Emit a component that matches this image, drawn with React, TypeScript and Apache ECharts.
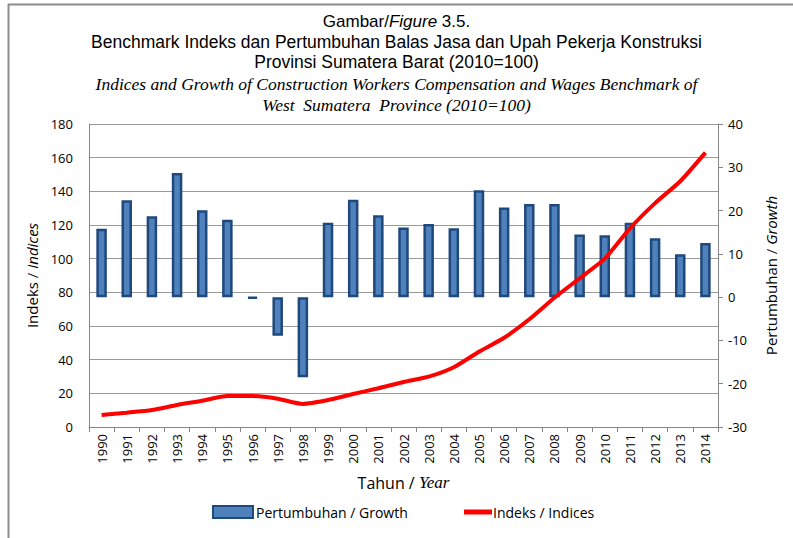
import React, { useEffect, useRef } from "react";
import * as echarts from "echarts";

const years = ["1990","1991","1992","1993","1994","1995","1996","1997","1998","1999","2000","2001","2002","2003","2004","2005","2006","2007","2008","2009","2010","2011","2012","2013","2014"];
const growth = [15.8, 22.4, 18.7, 28.7, 20.1, 17.9, -0.3, -8.9, -18.5, 17.2, 22.5, 18.9, 16.1, 16.9, 15.9, 24.7, 20.7, 21.5, 21.5, 14.5, 14.3, 17.2, 13.6, 9.9, 12.5];
const indices = [7.1, 8.5, 10.1, 13.1, 15.6, 18.4, 18.4, 16.8, 13.7, 16.0, 19.6, 23.0, 26.7, 29.9, 35.5, 44.7, 53.0, 64.0, 76.8, 88.3, 100.0, 118.0, 133.0, 146.0, 163.0];
const leftTicks = { min: 0, max: 180, interval: 20 };
const rightTicks = { min: -30, max: 40, interval: 10 };
const titleLines = [
  "Gambar/{i|Figure} 3.5.",
  "Benchmark Indeks dan Pertumbuhan Balas Jasa dan Upah Pekerja Konstruksi",
  "Provinsi Sumatera Barat (2010=100)",
];
const subtitleLines = [
  "Indices and Growth of Construction Workers Compensation and Wages Benchmark of",
  "West  Sumatera  Province (2010=100)",
];
const seriesNames = ["Pertumbuhan / Growth", "Indeks / Indices"];

const SANS = "'Liberation Sans Narrow', 'Liberation Sans', Arial, sans-serif";
const SERIF = "'Liberation Serif', 'Times New Roman', serif";
const AX = "'Open Sans', 'Noto Sans', sans-serif";

export default function App() {
  const ref = useRef<HTMLDivElement>(null);
  useEffect(() => {
    if (!ref.current) return;
    const chart = echarts.init(ref.current, null, { renderer: "svg" });
    const axisGray = "#868686";
    const titles: any[] = [];
    const tops = [8, 28, 48];
    titleLines.forEach((t, i) => {
      titles.push({
        text: t,
        left: "center",
        top: tops[i],
        textStyle: {
          fontFamily: SANS,
          fontSize: i === 0 ? 17 : 17.5,
          fontWeight: "normal",
          color: "#000",
          rich: { i: { fontFamily: SANS, fontSize: 17, fontStyle: "italic", color: "#000" } },
        },
      });
    });
    const stops = [70, 91];
    subtitleLines.forEach((t, i) => {
      titles.push({
        text: t,
        left: "center",
        top: stops[i],
        textStyle: { fontFamily: SERIF, fontSize: 17.5, fontStyle: "italic", fontWeight: "normal", color: "#000" },
      });
    });
    chart.setOption({
      animation: false,
      backgroundColor: "#fff",
      title: titles,
      grid: { left: 89, right: 75, top: 124, bottom: 111 },
      legend: [
        {
          data: [{ name: seriesNames[0], icon: "rect" }],
          left: 212,
          top: 505,
          padding: 0,
          itemWidth: 40,
          itemHeight: 12,
          textStyle: { fontFamily: AX, fontSize: 14, color: "#000", padding: [0, 0, 0, -2] },
        },
        {
          data: [{ name: seriesNames[1], icon: "rect" }],
          left: 464,
          top: 505,
          padding: 0,
          itemWidth: 28,
          itemHeight: 5,
          textStyle: { fontFamily: AX, fontSize: 14, color: "#000", padding: [2, 0, 0, -4] },
        },
      ],
      xAxis: {
        type: "category",
        data: years,
        boundaryGap: true,
        name: "Tahun / {i|Year}",
        nameLocation: "middle",
        nameGap: 47,
        nameTextStyle: {
          fontFamily: AX,
          fontSize: 16,
          color: "#000",
          rich: { i: { fontFamily: SERIF, fontStyle: "italic", fontSize: 17, color: "#000" } },
        },
        axisLine: { lineStyle: { color: axisGray, width: 1 } },
        axisTick: { show: true, alignWithLabel: false, interval: 0, length: 5, lineStyle: { color: axisGray } },
        axisLabel: { rotate: 90, interval: 0, fontFamily: AX, fontSize: 13, color: "#000", margin: 7 },
      },
      yAxis: [
        {
          type: "value",
          ...leftTicks,
          position: "left",
          name: "Indeks / {i|Indices}",
          nameLocation: "middle",
          nameGap: 43,
          nameRotate: 90,
          nameTextStyle: {
            fontFamily: AX,
            fontSize: 15,
            color: "#000",
            rich: { i: { fontFamily: AX, fontStyle: "italic", fontSize: 15, color: "#000" } },
          },
          axisLine: { show: true, lineStyle: { color: axisGray } },
          axisTick: { show: false },
          axisLabel: { fontFamily: AX, fontSize: 13, color: "#000", margin: 16 },
          splitLine: { show: true, lineStyle: { color: "#9a9a9a", width: 1 } },
        },
        {
          type: "value",
          ...rightTicks,
          position: "right",
          name: "Pertumbuhan / {i|Growth}",
          nameLocation: "middle",
          nameGap: 45,
          nameRotate: 90,
          nameTextStyle: {
            fontFamily: AX,
            fontSize: 15,
            color: "#000",
            rich: { i: { fontFamily: AX, fontStyle: "italic", fontSize: 15, color: "#000" } },
          },
          axisLine: { show: true, lineStyle: { color: axisGray } },
          axisTick: { show: true, length: 5, inside: false, lineStyle: { color: axisGray } },
          axisLabel: { fontFamily: AX, fontSize: 13, color: "#000", margin: 10 },
          splitLine: { show: false },
        },
      ],
      series: [
        {
          name: seriesNames[0],
          type: "bar",
          yAxisIndex: 1,
          data: growth,
          barWidth: 10.5,
          itemStyle: { color: "#4F81BD", borderColor: "#1F497D", borderWidth: 2.5 },
          z: 2,
        },
        {
          name: seriesNames[1],
          type: "line",
          yAxisIndex: 0,
          data: indices,
          symbol: "none",
          smooth: 0.2,
          lineStyle: { color: "#FF0000", width: 4 },
          itemStyle: { color: "#FF0000" },
          z: 3,
        },
      ],
      graphic: [
        { type: "line", shape: { x1: 8, y1: 4.5, x2: 793, y2: 4.5 }, style: { stroke: "#8c8c8c", lineWidth: 2 } },
        { type: "line", shape: { x1: 8.5, y1: 4, x2: 8.5, y2: 538 }, style: { stroke: "#8c8c8c", lineWidth: 2 } },
      ],
    });
    return () => chart.dispose();
  }, []);
  return (
    <div
      ref={ref}
      style={{ position: "absolute", left: 0, top: 0, width: 793, height: 538 }}
    />
  );
}
